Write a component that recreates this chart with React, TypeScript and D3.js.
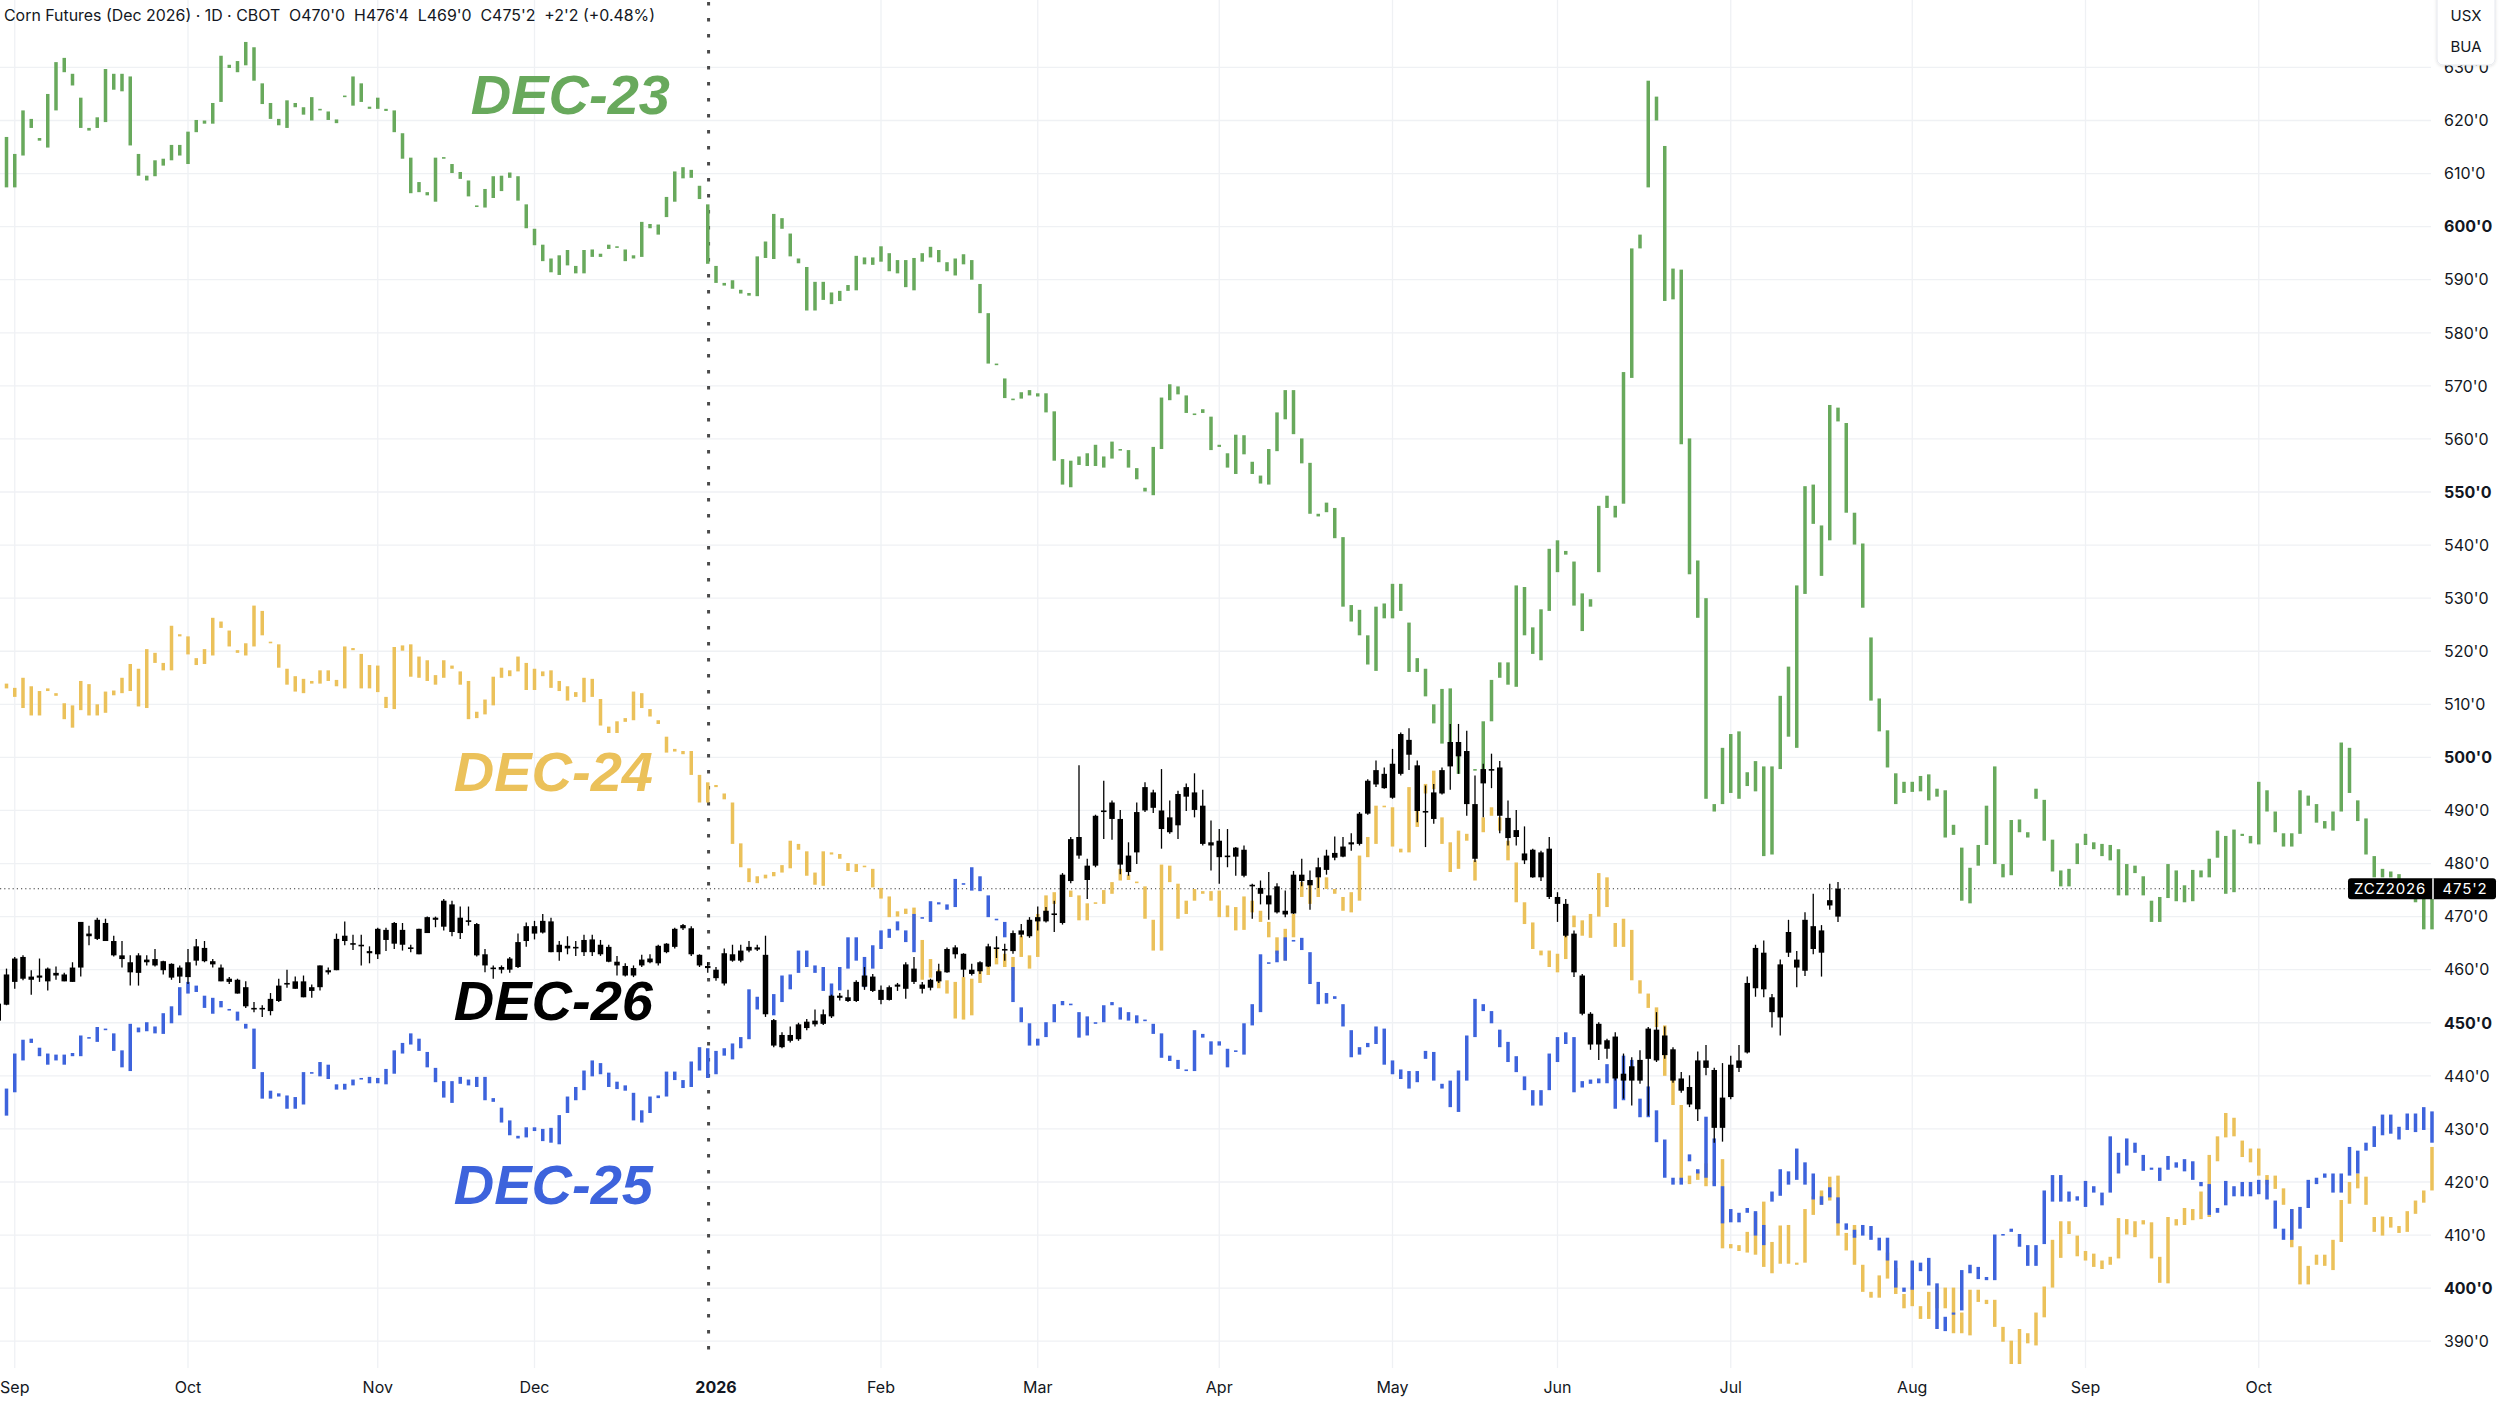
'use client'

import React, { useEffect, useRef } from 'react'
import * as d3 from 'd3'

// Bars are indexed by trading day; index 0 is the first September session.
const FIRST_BAR = -2

// Colored overlays are drawn as bodies only: [open, close]
const dec23: [number, number][] = [
  [621.9,618.7],[616.9,607.4],[613.7,607.4],[613.4,621.9],[620.3,618.6],[616.7,616.2],[614.9,625.0],[621.9,631.0],[631.8,629.1],[628.8,626.6],
  [624.3,618.6],[618.6,618.1],[618.6,620.6],[619.7,629.7],[628.8,625.8],[625.5,628.8],[628.3,615.3],[613.7,609.6],[609.6,608.7],[609.5,612.5],
  [612.8,611.5],[612.5,615.4],[615.4,613.4],[611.8,617.9],[617.8,620.1],[620.0,619.4],[619.4,623.3],[623.5,632.2],[630.5,629.9],[629.1,631.2],
  [630.4,634.8],[633.8,627.5],[627.0,623.1],[623.3,620.3],[620.3,619.1],[618.6,623.8],[623.3,622.5],[622.5,621.1],[620.0,624.4],[622.2,622.1],
  [621.7,620.1],[620.2,619.5],[624.4,624.7],[622.8,628.3],[627.0,623.5],[622.6,622.2],[622.2,624.3],[622.2,621.8],[621.9,617.8],[617.6,612.8],
  [613.0,606.3],[606.5,608.4],[606.5,605.9],[604.7,613.0],[613.1,612.8],[611.8,610.1],[610.3,609.0],[608.7,605.7],[604.0,603.8],[603.6,607.1],
  [605.4,609.5],[609.6,606.7],[610.2,609.2],[609.5,604.9],[604.2,599.7],[599.6,596.5],[596.6,593.5],[594.0,591.4],[590.9,594.6],[595.6,592.7],
  [592.6,591.2],[591.2,595.6],[595.7,594.3],[594.9,594.3],[595.8,596.6],[596.3,596.0],[595.7,593.5],[594.6,594.0],[594.3,600.9],[600.5,599.7],
  [600.4,598.5],[601.8,605.6],[604.7,610.4],[611.2,609.1],[609.2,610.7],[607.7,605.2],[604.2,593.0],[592.6,589.4],[589.4,588.9],[588.3,589.9],
  [588.1,587.4],[587.5,587.0],[586.9,594.4],[594.1,597.2],[602.4,593.9],[599.6,601.6],[598.7,594.4],[594.0,593.1],[592.4,584.2],[584.2,589.6],
  [589.6,586.2],[587.6,585.4],[587.9,586.0],[589.0,587.9],[588.0,594.5],[594.2,592.9],[592.8,594.2],[593.4,596.3],[595.0,591.6],[591.2,593.7],
  [593.7,588.6],[588.0,594.1],[593.4,595.0],[594.2,596.2],[595.6,593.3],[593.3,591.6],[590.8,594.0],[592.9,594.8],[593.7,590.0],[589.2,583.7],
  [583.7,574.2],[574.2,573.9],[571.4,567.7],[567.6,567.3],[567.6,568.8],[568.2,569.2],[568.6,568.0],[568.6,565.0],[565.2,555.9],[556.2,551.4],
  [550.9,555.9],[556.7,555.1],[554.9,557.3],[558.9,554.9],[554.6,556.7],[556.3,559.5],[558.1,557.9],[557.9,554.6],[554.5,552.4],[550.8,550.1],
  [549.4,558.5],[558.1,567.8],[567.3,570.3],[569.9,568.4],[568.2,564.9],[564.8,564.6],[564.9,565.6],[564.2,557.9],[558.9,558.5],[557.3,554.6],
  [553.4,560.8],[560.7,557.1],[555.7,553.4],[553.1,551.6],[551.4,558.1],[557.7,565.0],[563.7,569.2],[569.2,560.9],[560.1,555.4],[555.5,545.9],
  [545.9,545.4],[546.2,548.0],[547.0,541.3],[541.5,528.4],[528.7,525.6],[527.8,523.0],[523.0,517.5],[516.3,528.4],[529.0,526.2],[526.2,532.7],
  [532.7,527.6],[525.4,516.1],[518.7,516.1],[516.7,511.5],[510.0,506.4],[512.9,502.6],[502.6,513.0],[502.8,496.9],[497.8,497.5],[497.8,497.5],
  [497.7,506.8],[506.8,514.6],[515.0,517.9],[517.9,513.7],[513.3,532.4],[532.1,523.0],[524.5,519.5],[518.3,527.9],[527.6,539.3],[540.9,534.9],
  [538.9,538.2],[536.9,528.6],[530.9,523.8],[528.4,529.8],[534.9,547.4],[547.0,549.3],[547.4,545.2],[547.8,572.6],[571.5,595.9],[595.9,598.5],
  [607.4,627.5],[624.5,620.0],[615.2,586.0],[592.1,586.3],[591.9,559.0],[560.1,534.5],[537.1,526.3],[530.0,492.2],[491.2,489.8],[491.2,501.8],
  [504.4,493.3],[492.2,504.9],[497.2,494.6],[493.6,499.3],[498.3,481.4],[481.7,498.3],[497.8,511.6],[503.9,517.1],[501.8,532.4],[530.8,551.1],
  [551.4,544.0],[543.7,534.2],[540.9,566.4],[565.9,563.3],[563.0,546.1],[546.1,540.1],[540.3,528.2],[522.6,510.7],[511.1,504.9],[505.1,498.1],
  [497.0,491.2],[493.3,495.4],[495.4,493.5],[493.6,496.5],[496.8,491.9],[494.1,492.6],[493.8,484.9],[487.3,485.4],[483.0,473.0],[472.5,479.2],
  [479.6,483.5],[483.5,490.9],[498.3,479.9],[479.9,477.4],[477.8,488.2],[488.3,485.9],[485.9,484.9],[492.2,494.1],[492.0,484.3],[484.5,478.5],
  [478.7,475.7],[475.7,479.0],[479.9,483.8],[483.5,485.6],[484.0,482.7],[483.7,481.4],[483.5,480.6],[482.7,474.0],[474.0,479.9],[479.6,478.2],
  [477.6,474.0],[473.0,469.0],[469.0,473.7],[473.5,479.9],[478.7,472.9],[472.7,475.9],[472.9,478.8],[478.7,477.4],[477.4,480.9],[481.1,486.2],
  [485.2,474.3],[474.6,486.4],[485.6,485.2],[485.2,483.8],[483.6,495.4],[493.8,489.8],[489.8,485.9],[485.7,483.2],[483.2,485.7],[485.6,493.8],
  [492.8,490.9],[491.2,487.7],[488.0,486.6],[486.2,489.8],[489.8,502.8],[501.8,493.3],[491.9,488.0],[488.5,481.7],[481.4,477.4],[477.4,479.0],
  [478.5,477.4],[478.0,476.9],[477.0,476.0],[475.9,472.7],[474.3,467.6],[467.6,474.3],
]

const dec24: [number, number][] = [
  [516.2,514.1],[513.9,513.0],[513.1,511.4],[509.3,515.0],[513.4,507.9],[507.9,512.5],[513.0,512.5],[512.1,511.6],[510.2,507.2],[505.6,509.8],
  [508.9,514.4],[513.8,507.9],[507.9,510.0],[508.4,512.4],[512.6,511.7],[512.1,515.0],[512.5,517.6],[516.7,509.6],[509.3,520.4],[519.7,517.8],
  [517.8,516.4],[516.4,524.8],[523.2,522.8],[522.8,519.4],[518.7,517.4],[517.6,520.4],[519.2,526.3],[525.6,524.4],[523.9,520.9],[520.2,519.7],
  [519.2,521.5],[520.9,528.6],[527.6,523.0],[521.8,521.5],[521.3,516.9],[516.7,513.7],[515.3,512.4],[512.1,514.8],[514.4,513.9],[513.9,516.4],
  [516.4,514.4],[514.6,513.4],[513.0,520.9],[520.6,520.2],[519.5,513.0],[513.0,517.4],[517.3,512.3],[511.4,509.3],[509.1,520.8],[521.1,520.1],
  [521.3,515.2],[515.0,519.0],[518.3,514.4],[513.7,515.5],[515.0,518.3],[517.3,516.7],[516.2,513.7],[514.4,507.2],[507.4,508.6],[508.1,510.9],
  [509.8,515.2],[515.0,516.9],[516.4,515.3],[516.2,519.0],[517.8,512.7],[512.7,516.7],[516.2,515.3],[516.4,513.1],[514.4,512.5],[513.4,510.7],
  [511.4,512.3],[510.4,515.0],[514.8,511.4],[511.0,506.0],[505.8,504.6],[504.6,506.8],[507.4,506.7],[507.0,512.4],[512.1,509.3],[509.1,507.7],
  [507.0,506.3],[503.9,500.9],[501.6,501.1],[501.2,500.6],[501.2,496.7],[496.7,491.5],[495.3,491.5],[494.8,494.4],[493.2,492.1],[491.5,483.7],
  [483.8,479.3],[479.1,476.5],[477.6,476.3],[477.2,477.9],[477.6,478.4],[478.3,479.7],[479.1,484.3],[483.7,482.6],[482.3,477.7],[476.0,478.3],
  [475.8,482.3],[482.1,481.7],[481.8,480.9],[480.1,478.6],[478.4,479.9],[479.6,479.3],[479.0,475.5],[475.4,473.4],[473.8,469.9],[470.0,471.0],
  [471.5,470.5],[471.7,465.6],[465.6,458.1],[458.5,462.0],[460.0,456.5],[455.5,458.0],[457.7,450.8],[450.6,458.6],[458.3,451.4],[457.5,461.0],
  [459.0,462.5],[461.0,464.0],[463.0,460.5],[458.0,462.4],[462.4,466.4],[462.7,460.2],[462.4,470.5],[470.5,474.0],[474.6,472.4],[472.8,474.0],
  [474.9,473.7],[474.0,469.3],[469.3,472.5],[472.7,472.4],[472.4,475.0],[474.3,476.5],[476.8,479.0],[477.9,476.9],[476.6,476.4],[475.7,469.6],
  [469.4,463.6],[463.6,479.8],[479.6,476.5],[476.2,469.6],[470.5,473.0],[473.0,475.2],[474.8,474.3],[473.0,474.8],[474.9,469.9],[469.9,472.1],
  [471.8,467.4],[467.5,473.8],[473.0,470.8],[471.1,469.0],[469.0,466.1],[466.1,463.0],[461.7,467.7],[466.1,470.5],[473.7,476.5],[476.2,472.4],
  [473.7,477.4],[477.4,475.2],[475.2,474.3],[473.7,471.1],[470.8,474.6],[473.0,481.5],[481.2,485.0],[483.7,490.9],[490.9,490.6],[490.6,483.2],
  [482.8,482.1],[482.1,494.4],[494.4,486.9],[495.0,493.2],[494.0,497.5],[488.7,483.7],[484.0,478.4],[479.0,486.2],[485.6,484.3],[480.6,476.8],
  [485.9,488.7],[489.0,490.6],[488.7,486.2],[484.3,480.6],[480.2,472.7],[472.7,468.6],[468.9,463.9],[463.6,462.7],[463.6,460.5],[459.5,463.0],
  [462.0,466.5],[468.0,470.2],[469.3,466.4],[466.0,470.5],[470.0,478.2],[477.4,471.8],[468.8,464.3],[464.3,469.6],[467.5,458.0],[458.0,455.5],
  [455.5,452.8],[452.9,449.2],[449.5,440.0],[441.0,434.5],[434.5,420.4],[421.2,419.6],[420.4,422.0],[423.5,419.2],[419.5,420.2],[424.3,407.5],
  [408.3,407.5],[408.1,407.0],[406.7,410.6],[406.3,414.2],[416.3,404.0],[402.8,408.7],[411.8,404.6],[404.6,411.9],[404.8,404.4],[404.8,414.9],
  [413.8,417.3],[415.7,418.4],[416.5,421.0],[421.2,409.9],[410.4,407.1],[411.9,404.4],[404.4,399.3],[399.3,398.2],[398.2,402.4],[406.7,401.8],
  [403.8,398.9],[398.9,396.2],[396.6,400.3],[396.6,394.2],[394.2,399.3],[400.3,396.2],[396.2,400.1],[400.1,391.5],[391.5,395.4],[399.7,391.1],
  [397.4,399.7],[397.8,397.0],[397.8,392.7],[392.7,389.9],[390.1,385.7],[385.7,392.3],[391.5,389.6],[389.2,395.4],[394.5,400.3],[400.1,409.1],
  [412.6,405.7],[410.2,412.6],[409.9,406.0],[407.0,405.2],[406.5,404.0],[405.2,403.6],[404.4,405.9],[405.6,413.2],[413.0,410.1],[409.6,412.6],
  [412.8,412.0],[412.4,405.6],[405.9,401.0],[400.9,413.4],[413.0,411.8],[411.9,415.1],[414.9,412.8],[413.0,418.2],[413.4,425.1],[423.9,428.6],
  [428.4,433.0],[432.1,428.6],[427.8,424.7],[426.3,423.7],[426.3,421.2],[421.3,419.5],[421.2,418.7],[418.8,415.7],[414.9,407.7],[407.9,400.7],
  [400.7,404.2],[404.4,406.3],[406.3,404.2],[403.4,409.1],[408.7,416.6],[415.9,420.0],[418.8,421.6],[421.0,415.7],[413.4,410.6],[409.9,413.5],
  [413.4,411.4],[411.7,410.4],[410.6,414.5],[414.0,416.5],[416.1,418.4],[418.4,426.6],
]

const dec25: [number, number][] = [
  [434.1,430.7],[432.5,437.6],[436.9,444.2],[442.9,446.8],[447.0,446.2],[445.3,443.7],[444.2,442.1],[442.9,444.0],[444.0,442.1],[443.7,444.3],
  [443.7,447.6],[447.3,447.0],[446.4,449.2],[448.9,448.7],[448.0,444.7],[444.8,441.6],[440.9,449.8],[449.1,448.2],[448.4,450.1],[449.3,448.0],
  [447.9,451.8],[449.9,453.1],[451.4,456.7],[455.5,457.7],[457.0,455.8],[455.1,452.8],[451.7,454.7],[454.1,452.9],[452.6,452.4],[452.1,450.4],
  [449.8,448.9],[448.9,441.3],[440.7,435.7],[435.7,437.2],[436.7,436.1],[436.3,433.8],[433.8,436.0],[434.6,440.7],[440.7,440.4],[439.9,442.6],
  [442.1,439.4],[438.4,437.4],[437.4,438.5],[438.2,439.3],[439.6,439.4],[439.8,438.6],[438.6,439.6],[438.4,441.3],[440.4,444.8],[444.2,446.2],
  [445.9,448.0],[447.0,444.7],[444.5,441.6],[441.5,438.8],[439.0,435.9],[434.9,439.0],[439.8,438.5],[438.2,439.3],[439.8,437.9],[439.8,435.4],
  [435.8,435.1],[434.0,431.2],[431.6,428.8],[428.7,428.2],[428.4,430.3],[430.3,429.6],[430.0,427.7],[427.4,430.2],[432.6,427.1],[433.0,436.1],
  [435.4,437.9],[437.3,441.0],[439.9,442.9],[442.4,440.3],[440.6,437.9],[438.9,437.5],[438.2,437.2],[436.8,431.6],[431.2,433.5],[433.0,436.1],
  [436.3,435.8],[436.1,440.8],[440.8,439.2],[439.2,437.7],[437.9,442.7],[441.0,445.4],[445.2,439.6],[440.3,444.7],[445.2,443.8],[443.1,446.1],
  [445.2,447.3],[446.9,456.3],[454.9,452.5],[454.6,456.0],[455.4,451.4],[453.9,458.9],[459.1,456.3],[459.4,463.6],[463.6,460.5],[460.8,459.4],
  [460.5,456.0],[457.4,454.9],[456.1,460.5],[460.2,466.1],[466.1,461.7],[462.4,456.7],[460.2,464.6],[463.9,467.4],[467.7,466.0],[467.4,469.1],
  [467.4,465.2],[463.3,470.5],[469.9,469.6],[469.0,472.9],[472.7,472.3],[472.3,471.3],[471.8,477.1],[476.3,476.0],[474.9,479.3],[477.6,474.8],
  [474.0,469.9],[469.6,469.3],[469.0,466.1],[460.5,453.9],[452.9,450.1],[449.9,445.7],[445.7,447.0],[447.3,450.1],[450.1,453.5],[454.1,453.3],
  [453.6,453.4],[452.0,447.2],[447.6,451.2],[450.1,449.8],[450.1,453.3],[453.9,453.3],[452.9,450.6],[450.4,452.0],[451.4,449.9],[450.6,450.4],
  [449.8,447.9],[448.0,443.4],[443.8,442.8],[443.0,441.3],[441.2,441.0],[440.9,448.6],[447.9,447.2],[446.5,444.0],[445.7,446.5],[445.1,441.6],
  [444.8,444.6],[444.0,449.9],[449.5,453.5],[452.0,462.9],[461.4,461.1],[461.4,463.6],[461.7,466.1],[465.6,465.3],[463.7,466.0],[463.3,457.3],
  [457.7,453.5],[453.6,455.6],[455.0,454.5],[453.5,449.3],[448.6,443.5],[445.4,444.0],[445.4,446.2],[446.0,449.3],[448.9,442.1],[442.9,440.3],
  [441.2,439.4],[440.9,437.6],[438.8,440.9],[443.2,444.7],[444.5,439.1],[438.5,437.6],[439.1,434.1],[433.2,441.0],[439.1,447.6],[447.3,454.5],
  [453.5,452.2],[452.2,449.9],[448.7,445.4],[446.4,442.6],[443.7,440.7],[439.9,437.3],[437.3,434.4],[434.4,437.3],[437.3,444.2],[442.6,447.3],
  [448.2,446.0],[447.3,436.9],[439.0,437.8],[438.5,439.3],[439.5,438.6],[438.6,442.2],[442.0,433.8],[435.4,443.8],[443.0,439.8],[435.7,432.2],
  [432.2,438.0],[433.5,427.5],[428.0,420.8],[420.8,419.5],[419.5,420.8],[423.9,425.2],[422.4,421.6],[420.8,432.3],[428.2,419.2],[419.2,412.2],
  [412.4,414.9],[414.2,412.4],[414.2,415.1],[414.5,409.9],[408.1,411.9],[416.3,418.2],[417.4,422.4],[422.0,419.5],[420.4,426.3],[423.7,419.5],
  [421.6,416.7],[417.3,415.7],[417.1,419.0],[417.1,412.2],[412.2,411.0],[411.0,409.5],[409.9,411.9],[411.7,409.1],[409.5,407.1],[409.5,405.2],
  [405.2,400.1],[400.1,399.3],[399.7,405.2],[404.8,403.2],[405.7,400.5],[400.9,392.3],[391.9,394.6],[395.0,395.4],[395.8,403.4],[404.4,402.8],
  [401.7,404.0],[402.1,401.5],[401.5,410.1],[410.2,409.9],[410.6,411.2],[410.2,407.8],[408.1,404.2],[404.2,408.1],[408.3,418.4],[416.3,421.3],
  [421.3,416.3],[416.3,418.2],[417.3,416.5],[415.3,420.2],[419.2,418.0],[418.0,415.6],[418.0,428.6],[425.5,421.6],[423.1,428.2],[427.4,425.5],
  [425.1,422.1],[422.7,422.3],[422.7,420.2],[422.3,424.9],[423.7,422.7],[422.0,424.3],[423.9,420.4],[420.0,419.2],[419.6,413.8],[414.2,415.1],
  [415.6,420.2],[419.2,417.3],[417.3,420.0],[420.0,417.3],[417.7,420.4],[420.4,416.7],[416.5,411.2],[411.2,409.1],[409.1,414.9],[415.3,411.2],
  [415.1,420.4],[419.6,420.8],[420.8,421.6],[421.6,418.0],[418.0,421.6],[421.2,426.6],[425.9,421.6],[425.9,427.4],[426.6,430.5],[428.8,432.7],
  [432.7,429.1],[428.0,430.4],[429.8,432.9],[432.9,429.4],[429.8,434.1],[433.3,427.4],
]

// Main series candles: [open, high, low, close]
const dec26: [number, number, number, number][] = [
  [450.4,453.9,450.4,453.6],[453.4,460.2,453.3,459.1],[457.7,462.4,456.4,462.1],[462.4,462.7,458.0,458.3],[458.1,459.9,455.3,458.7],[458.5,462.1,457.7,458.9],[460.2,460.4,456.1,457.8],[458.9,460.6,458.1,459.4],[459.1,459.4,457.8,457.8],[457.7,461.4,457.7,460.4],
  [460.4,469.0,458.7,469.0],[466.8,468.3,464.6,466.3],[465.8,469.8,465.6,469.4],[468.8,469.6,465.4,465.4],[465.4,466.4,462.5,462.7],[462.7,465.4,460.4,462.0],[461.4,462.7,457.0,459.5],[459.4,463.1,457.0,462.7],[461.9,462.7,460.8,461.4],[460.8,463.9,460.6,462.0],
  [461.6,461.7,459.1,459.9],[461.1,461.2,458.1,458.5],[460.4,460.8,457.5,458.7],[458.6,463.9,457.3,461.4],[461.7,465.8,460.8,464.4],[464.1,465.4,461.4,461.6],[461.6,462.0,460.4,461.0],[460.4,461.0,457.8,457.8],[458.3,458.6,457.3,457.7],[458.1,458.3,455.5,455.5],
  [456.7,457.8,452.8,453.1],[452.8,453.9,452.0,452.6],[452.6,453.3,451.1,452.8],[452.2,455.6,451.4,454.5],[454.1,458.3,453.9,457.0],[457.2,460.0,456.6,457.5],[457.8,458.7,456.4,456.4],[457.8,458.9,454.8,454.8],[456.0,457.2,454.7,456.7],[456.7,460.8,456.1,460.8],
  [459.5,460.4,459.1,459.9],[459.9,466.8,459.9,465.8],[465.4,469.1,464.6,466.4],[465.0,466.6,463.7,464.7],[464.7,466.6,460.8,464.6],[463.5,464.4,461.2,463.1],[462.9,467.9,462.0,467.7],[467.5,467.9,463.5,465.6],[464.9,469.0,463.9,468.8],[467.5,468.8,463.6,464.7],
  [464.2,464.7,463.3,463.9],[462.9,467.7,462.9,467.7],[466.9,470.0,466.9,469.9],[469.8,470.0,468.0,469.4],[468.1,473.3,467.4,473.0],[472.3,473.0,466.3,467.1],[466.9,471.9,465.8,469.8],[469.3,471.9,468.3,469.1],[468.6,468.8,462.5,462.7],[462.9,463.9,459.5,460.8],
  [460.4,460.8,458.3,460.2],[460.5,460.8,459.3,460.0],[460.0,462.4,459.4,462.1],[460.5,466.8,460.3,465.2],[465.4,468.9,464.3,468.2],[466.8,469.2,465.7,468.2],[467.0,470.5,466.8,469.2],[469.1,469.8,463.3,463.3],[463.3,465.4,461.7,464.7],[464.5,466.3,462.9,464.0],
  [464.0,465.4,462.6,464.3],[463.3,466.6,462.6,465.6],[465.7,466.6,462.6,463.3],[462.9,465.6,462.6,464.7],[464.3,464.7,461.4,461.5],[461.5,462.6,458.9,460.8],[460.7,461.2,458.7,458.9],[458.9,460.8,458.6,460.3],[460.8,462.8,460.5,461.9],[461.4,462.9,461.2,462.1],
  [461.2,464.7,460.8,464.5],[463.3,465.0,463.1,464.9],[464.3,467.9,464.0,467.7],[467.8,468.6,467.5,468.4],[467.8,468.2,462.6,462.9],[462.8,462.9,460.5,460.8],[460.7,461.4,459.4,460.3],[460.0,460.5,457.9,458.4],[457.4,464.0,457.0,463.1],[462.9,464.7,461.5,461.7],
  [461.7,464.7,461.4,463.6],[463.6,465.4,463.3,464.3],[463.8,464.7,463.5,464.2],[462.8,466.4,451.1,451.6],[450.5,450.7,445.4,445.7],[447.7,448.2,445.2,445.4],[446.6,449.3,446.3,447.7],[446.9,450.0,446.6,449.7],[449.0,450.7,448.6,450.2],[449.7,452.5,449.3,450.4],
  [449.8,452.5,449.6,451.6],[451.2,455.3,450.9,455.1],[455.1,455.6,454.2,454.7],[454.1,456.2,453.9,454.8],[454.1,458.0,453.9,457.7],[456.8,460.5,456.2,458.9],[458.7,459.2,455.8,456.0],[456.2,457.0,453.5,454.3],[454.3,457.0,454.2,456.7],[456.8,457.5,456.0,457.2],
  [456.4,461.4,454.5,461.0],[460.2,462.4,457.3,457.7],[457.2,457.7,455.5,456.4],[456.6,458.3,456.1,458.1],[457.8,461.1,457.5,459.7],[459.5,464.2,459.4,463.9],[464.2,464.6,462.1,462.9],[463.0,463.1,458.6,460.0],[460.0,461.1,458.9,459.2],[459.7,461.6,459.2,461.4],
  [460.6,464.9,460.5,464.4],[464.2,466.3,462.2,463.9],[463.9,464.9,461.7,463.7],[463.5,467.4,463.0,466.9],[466.6,468.6,466.1,467.4],[466.3,469.9,466.0,469.4],[469.1,471.9,467.4,469.9],[469.1,471.8,468.9,471.1],[470.6,473.0,467.1,470.4],[468.8,478.2,468.5,477.9],
  [476.7,485.0,476.3,484.6],[485.0,498.5,480.9,481.5],[479.6,480.9,473.3,476.9],[479.6,489.2,479.3,489.0],[490.0,495.6,484.6,489.9],[488.4,491.9,484.5,491.5],[488.4,490.1,478.0,479.8],[478.4,484.0,477.7,481.5],[482.1,491.5,479.9,489.7],[490.0,495.3,489.7,494.4],
  [493.4,493.9,489.5,490.5],[490.0,497.8,482.8,486.5],[485.9,491.9,485.6,488.7],[487.2,493.7,484.6,493.1],[492.6,495.1,489.9,494.4],[493.4,497.0,488.7,490.1],[490.9,493.9,483.4,483.7],[484.0,488.1,478.7,483.4],[484.3,486.5,476.2,481.2],[481.5,486.5,479.3,481.2],
  [481.3,483.1,477.7,483.0],[482.6,483.4,477.4,477.7],[476.0,476.2,469.6,475.9],[475.4,476.8,472.3,474.3],[474.0,478.4,469.4,472.3],[470.8,476.3,470.6,475.7],[471.1,474.9,469.9,470.4],[470.6,478.6,470.5,477.9],[477.9,480.9,475.7,476.7],[476.9,478.7,471.3,475.9],
  [477.4,481.1,475.4,479.3],[478.8,482.6,477.9,481.5],[481.1,485.1,480.6,482.0],[481.3,485.0,481.2,483.2],[483.6,485.7,482.4,484.0],[483.7,489.7,483.4,489.4],[489.4,495.9,489.2,495.6],[494.9,499.4,494.4,497.6],[496.9,498.1,494.1,494.2],[492.4,501.6,492.2,498.8],
  [496.9,504.7,496.6,504.4],[503.3,505.5,497.6,500.5],[498.5,499.4,487.8,489.9],[489.9,494.7,483.1,489.7],[488.4,495.0,487.5,493.4],[493.2,498.1,493.0,497.6],[498.3,506.3,493.9,502.9],[502.9,506.3,496.9,500.2],[501.2,505.0,489.0,491.2],[491.2,496.6,480.3,480.9],
  [495.1,498.8,488.7,497.8],[497.8,500.7,494.2,497.6],[498.1,499.3,485.7,489.0],[488.6,491.9,483.4,484.8],[486.3,490.1,483.4,485.0],[481.9,487.0,479.9,480.6],[482.6,482.8,477.3,477.4],[482.1,482.4,476.7,477.4],[482.8,485.0,473.3,473.7],[473.7,474.6,469.0,472.4],
  [472.4,473.3,466.1,466.4],[466.8,467.4,458.6,459.5],[458.9,459.2,451.4,451.7],[451.7,452.0,444.9,445.9],[449.8,450.1,443.0,445.9],[446.7,447.0,443.2,445.1],[447.4,448.2,439.1,439.5],[440.4,444.2,435.7,439.1],[439.1,443.5,434.4,441.8],[439.1,444.8,438.5,443.0],
  [443.2,449.2,432.5,448.9],[448.7,452.0,442.6,442.9],[443.9,449.3,443.2,447.6],[445.0,445.4,438.7,439.1],[439.5,440.7,436.8,437.2],[437.9,440.1,434.1,434.6],[433.7,444.6,431.5,442.9],[442.9,445.8,440.1,441.5],[441.1,441.5,427.4,430.2],[430.2,442.4,427.6,435.9],
  [436.0,443.8,435.6,442.1],[441.5,445.8,440.7,442.9],[444.4,458.7,444.2,457.5],[456.5,464.7,454.9,464.1],[463.2,465.5,454.8,456.3],[454.8,455.4,449.1,452.0],[451.0,461.9,447.6,461.0],[463.2,469.4,462.4,467.1],[461.9,463.5,456.7,460.4],[459.8,470.8,458.8,469.4],
  [468.2,474.3,462.9,463.9],[463.2,468.4,458.7,467.4],[472.1,476.2,471.3,473.1],[470.0,476.5,469.0,475.25],
]

const priceTicks = [390, 400, 410, 420, 430, 440, 450, 460, 470, 480, 490, 500, 510, 520, 530, 540, 550, 560, 570, 580, 590, 600, 610, 620, 630]

const monthTicks = [
  { label: 'Sep', bar: 0 }, { label: 'Oct', bar: 21 }, { label: 'Nov', bar: 44 }, { label: 'Dec', bar: 63 },
  { label: '2026', bar: 85 }, { label: 'Feb', bar: 105 }, { label: 'Mar', bar: 124 }, { label: 'Apr', bar: 146 },
  { label: 'May', bar: 167 }, { label: 'Jun', bar: 187 }, { label: 'Jul', bar: 208 }, { label: 'Aug', bar: 230 },
  { label: 'Sep', bar: 251 }, { label: 'Oct', bar: 272 },
]

const YEAR_BREAK_BAR = 84.1
const LAST_PRICE = 475.25

const GREEN = '#68a95c'
const YELLOW = '#ebc15a'
const BLUE = '#3d63dc'
const BLACK = '#000000'

const seriesLabels = [
  { text: 'DEC-23', color: GREEN, x: 670, y: 114 },
  { text: 'DEC-24', color: YELLOW, x: 653, y: 791 },
  { text: 'DEC-26', color: BLACK, x: 653, y: 1020 },
  { text: 'DEC-25', color: BLUE, x: 653, y: 1204 },
]

const WIDTH = 2500
const HEIGHT = 1402

export default function App() {
  const svgRef = useRef<SVGSVGElement>(null)

  useEffect(() => {
    document.body.style.margin = '0'
    if (!svgRef.current) return

    const svg = d3.select(svgRef.current)
    svg.selectAll('*').remove()

    const font = 'Inter, Roboto, "Noto Sans", sans-serif'
    const plotRight = 2431
    const plotBottom = 1368

    const x = d3.scaleLinear().domain([0, 272]).range([14.75, 2258.75])
    const y = d3.scaleLinear().domain([390, 620]).range([1341.2, 120.5])

    svg.append('rect').attr('width', WIDTH).attr('height', HEIGHT).attr('fill', '#ffffff')

    const defs = svg.append('defs')
    defs.append('clipPath').attr('id', 'plot-clip')
      .append('rect').attr('x', 0).attr('y', 0).attr('width', plotRight + 4).attr('height', plotBottom)
    const shadow = defs.append('filter').attr('id', 'unit-shadow').attr('x', '-30%').attr('y', '-30%').attr('width', '160%').attr('height', '160%')
    shadow.append('feDropShadow').attr('dx', 0).attr('dy', 1).attr('stdDeviation', 1.5)
      .attr('flood-color', '#000').attr('flood-opacity', 0.12)

    // Grid
    const grid = svg.append('g')
    grid.selectAll('line.h').data(priceTicks).enter().append('line')
      .attr('x1', 0).attr('x2', plotRight)
      .attr('y1', d => y(d)).attr('y2', d => y(d))
      .attr('stroke', '#eff1f4').attr('stroke-width', 1.3)
    grid.selectAll('line.v').data(monthTicks.filter(m => m.label !== '2026')).enter().append('line')
      .attr('x1', d => x(d.bar)).attr('x2', d => x(d.bar))
      .attr('y1', 0).attr('y2', plotBottom)
      .attr('stroke', '#eff1f4').attr('stroke-width', 1.3)

    // Year break
    svg.append('line')
      .attr('x1', x(YEAR_BREAK_BAR)).attr('x2', x(YEAR_BREAK_BAR))
      .attr('y1', 2).attr('y2', 1360)
      .attr('stroke', '#4a4a4a').attr('stroke-width', 3)
      .attr('stroke-dasharray', '3.5,12.5')

    const plot = svg.append('g').attr('clip-path', 'url(#plot-clip)')

    // Last price line
    plot.append('line')
      .attr('x1', 0).attr('x2', 2348)
      .attr('y1', y(LAST_PRICE)).attr('y2', y(LAST_PRICE))
      .attr('stroke', '#3a3a3a').attr('stroke-width', 1.2)
      .attr('stroke-dasharray', '1.2,3')

    const overlays = [
      { data: dec23, color: GREEN },
      { data: dec24, color: YELLOW },
      { data: dec25, color: BLUE },
    ]
    overlays.forEach(s => {
      plot.append('g').selectAll('rect').data(s.data).enter().append('rect')
        .attr('x', (_, i) => x(FIRST_BAR + i) - 1.75)
        .attr('width', 3.5)
        .attr('y', d => y(Math.max(d[0], d[1])))
        .attr('height', d => Math.max(1.6, y(Math.min(d[0], d[1])) - y(Math.max(d[0], d[1]))))
        .attr('fill', s.color)
    })

    const candles = plot.append('g')
    candles.selectAll('line').data(dec26).enter().append('line')
      .attr('x1', (_, i) => x(FIRST_BAR + i)).attr('x2', (_, i) => x(FIRST_BAR + i))
      .attr('y1', d => y(d[1])).attr('y2', d => y(d[2]))
      .attr('stroke', BLACK).attr('stroke-width', 1.3)
    candles.selectAll('rect').data(dec26).enter().append('rect')
      .attr('x', (_, i) => x(FIRST_BAR + i) - 2.75)
      .attr('width', 5.5)
      .attr('y', d => y(Math.max(d[0], d[3])))
      .attr('height', d => Math.max(1.6, y(Math.min(d[0], d[3])) - y(Math.max(d[0], d[3]))))
      .attr('fill', BLACK)

    // Series labels
    svg.append('g').selectAll('text').data(seriesLabels).enter().append('text')
      .attr('x', d => d.x).attr('y', d => d.y)
      .attr('text-anchor', 'end')
      .attr('fill', d => d.color)
      .style('font-family', '"Liberation Sans", Arial, sans-serif')
      .style('font-weight', '700')
      .style('font-style', 'italic')
      .style('font-size', '56px')
      .text(d => d.text)

    // Price axis
    svg.append('g').selectAll('text').data(priceTicks).enter().append('text')
      .attr('x', 2444).attr('y', d => y(d))
      .attr('dy', '0.36em')
      .attr('fill', '#131722')
      .style('font-family', font)
      .style('font-size', '16px')
      .style('font-weight', d => (d % 50 === 0 ? '700' : '400'))
      .text(d => `${d}'0`)

    // Time axis
    svg.append('g').selectAll('text').data(monthTicks).enter().append('text')
      .attr('x', d => x(d.bar)).attr('y', 1387)
      .attr('dy', '0.36em')
      .attr('text-anchor', 'middle')
      .attr('fill', '#131722')
      .style('font-family', font)
      .style('font-size', '16px')
      .style('font-weight', d => (d.label === '2026' ? '700' : '400'))
      .text(d => d.label)

    // Last price tag
    const tagY = y(LAST_PRICE)
    const tag = svg.append('g')
    tag.append('rect').attr('x', 2348).attr('y', tagY - 10.5).attr('width', 148).attr('height', 21)
      .attr('rx', 3).attr('fill', '#000')
    tag.append('line').attr('x1', 2433).attr('x2', 2433).attr('y1', tagY - 10.5).attr('y2', tagY + 10.5)
      .attr('stroke', '#fff').attr('stroke-width', 1.5)
    tag.append('text').attr('x', 2390).attr('y', tagY).attr('dy', '0.36em')
      .attr('text-anchor', 'middle').attr('fill', '#fff')
      .style('font-family', font).style('font-size', '15px').style('letter-spacing', '0.8px')
      .text('ZCZ2026')
    tag.append('text').attr('x', 2465).attr('y', tagY).attr('dy', '0.36em')
      .attr('text-anchor', 'middle').attr('fill', '#fff')
      .style('font-family', font).style('font-size', '15px').style('letter-spacing', '0.8px')
      .text("475'2")

    // Currency / unit box (covers most of the top price label)
    const unit = svg.append('g')
    unit.append('rect').attr('x', 2437).attr('y', -8).attr('width', 58).attr('height', 73)
      .attr('rx', 6).attr('fill', '#fff').attr('stroke', '#e6e8ee').attr('stroke-width', 1)
      .attr('filter', 'url(#unit-shadow)')
    unit.append('text').attr('x', 2466).attr('y', 16).attr('dy', '0.36em').attr('text-anchor', 'middle')
      .attr('fill', '#131722').style('font-family', font).style('font-size', '15px').text('USX')
    unit.append('text').attr('x', 2466).attr('y', 47).attr('dy', '0.36em').attr('text-anchor', 'middle')
      .attr('fill', '#131722').style('font-family', font).style('font-size', '15px').text('BUA')

    // Title / legend
    svg.append('text')
      .attr('x', 4).attr('y', 15).attr('dy', '0.36em')
      .attr('fill', '#131722')
      .attr('textLength', 651).attr('lengthAdjust', 'spacingAndGlyphs')
      .style('font-family', font).style('font-size', '15.5px')
      .style('white-space', 'pre')
      .text("Corn Futures (Dec 2026) · 1D · CBOT  O470'0  H476'4  L469'0  C475'2  +2'2 (+0.48%)")
  }, [])

  return (
    <svg
      ref={svgRef}
      width={WIDTH}
      height={HEIGHT}
      style={{ position: 'absolute', left: 0, top: 0, display: 'block' }}
    />
  )
}
